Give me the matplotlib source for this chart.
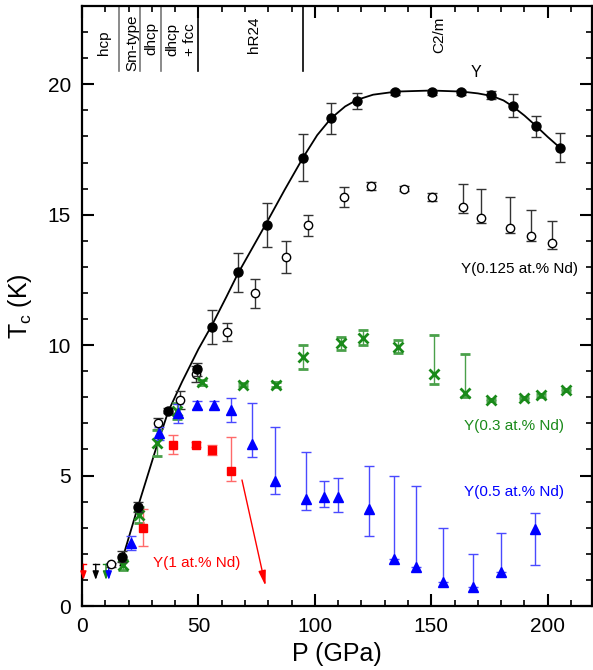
import matplotlib
matplotlib.use('Agg')
import matplotlib.pyplot as plt
from matplotlib.ticker import MultipleLocator

plt.rcParams['font.family'] = ['Liberation Sans', 'DejaVu Sans']
plt.rcParams['mathtext.fontset'] = 'custom'
plt.rcParams['mathtext.rm'] = 'Liberation Sans'
plt.rcParams['mathtext.it'] = 'Liberation Sans:italic'

# ---------------- data ----------------
# pure Y (filled black circles)
y_P = [17.3, 23.9, 37.1, 49.2, 55.9, 67.1, 79.3, 94.7, 107.0, 117.9, 134.3, 150.5, 162.7, 175.7, 185.0, 195.1, 205.2]
y_T = [1.89, 3.80, 7.48, 9.08, 10.68, 12.79, 14.60, 17.19, 18.69, 19.37, 19.69, 19.69, 19.69, 19.59, 19.18, 18.39, 17.57]
y_err = [0.2, 0.2, 0.1, 0.25, 0.65, 0.75, 0.85, 0.9, 0.6, 0.3, 0.1, 0.1, 0.1, 0.17, 0.45, 0.4, 0.55]

# guide line through pure Y
curve_P = [16.5, 20, 24, 28, 32, 37, 43, 50, 56, 62, 67, 73, 79, 87, 95, 101, 107, 113, 118, 125,
           135, 150, 163, 170, 176, 181, 185, 190, 195, 200, 205.2]
curve_T = [1.55, 2.6, 3.8, 4.95, 6.1, 7.45, 8.6, 9.85, 10.8, 11.85, 12.75, 13.7, 14.65, 15.95, 17.2, 18.05,
           18.7, 19.15, 19.4, 19.6, 19.72, 19.76, 19.72, 19.65, 19.55, 19.38, 19.15, 18.8, 18.4, 17.98, 17.57]

# Y(0.125 at.% Nd) open circles
a_P = [12.4, 32.5, 42.1, 48.9, 62.1, 74.4, 87.6, 97.1, 112.4, 124.0, 138.2, 150.5, 163.5, 171.5, 184.0, 192.7, 202.0]
a_T = [1.61, 7.0, 7.89, 8.89, 10.49, 11.98, 13.38, 14.59, 15.68, 16.09, 15.99, 15.68, 15.29, 14.88, 14.49, 14.2, 13.9]
a_lo = [0.1, 0.2, 0.35, 0.3, 0.35, 0.55, 0.6, 0.4, 0.4, 0.15, 0.1, 0.15, 0.22, 0.19, 0.21, 0.22, 0.22]
a_hi = [0.05, 0.2, 0.35, 0.3, 0.35, 0.55, 0.6, 0.4, 0.4, 0.15, 0.1, 0.15, 0.88, 1.1, 1.19, 0.97, 0.86]

# Y(0.3 at.% Nd) green crosses
b_P = [17.5, 24.3, 32.0, 40.6, 51.4, 69.2, 83.3, 95.0, 111.2, 120.7, 135.8, 151.1, 164.4, 175.7, 189.7, 196.9, 208.0]
b_T = [1.57, 3.5, 6.26, 7.48, 8.58, 8.49, 8.49, 9.54, 10.07, 10.29, 9.94, 8.89, 8.17, 7.89, 7.98, 8.08, 8.28]
b_lo = [0.2, 0.3, 0.5, 0.3, 0.1, 0.05, 0.1, 0.45, 0.25, 0.3, 0.25, 0.38, 0.17, 0.05, 0.05, 0.05, 0.05]
b_hi = [0.2, 0.3, 0.5, 0.3, 0.1, 0.05, 0.1, 0.45, 0.25, 0.3, 0.25, 1.5, 1.5, 0.05, 0.05, 0.05, 0.05]

# Y(0.5 at.% Nd) blue triangles
c_P = [20.9, 33.2, 41.1, 49.2, 56.7, 63.8, 72.8, 82.8, 96.4, 103.9, 109.9, 123.2, 133.9, 143.6, 155.1, 167.7, 180.1, 194.7]
c_T = [2.43, 6.62, 7.38, 7.7, 7.7, 7.51, 6.21, 4.8, 4.09, 4.19, 4.19, 3.7, 1.79, 1.51, 0.93, 0.74, 1.31, 2.94]
c_lo = [0.27, 0.25, 0.35, 0.15, 0.15, 0.45, 0.51, 0.51, 0.41, 0.39, 0.6, 1.02, 0, 0, 0, 0, 0, 1.37]
c_hi = [0.27, 0.25, 0.35, 0.15, 0.15, 0.45, 1.58, 2.07, 1.8, 0.61, 0.7, 1.68, 3.2, 3.1, 2.05, 1.24, 1.48, 0.63]

# Y(1 at.% Nd) red squares
d_P = [26.0, 39.2, 48.8, 55.9, 63.8]
d_T = [2.98, 6.19, 6.19, 5.98, 5.18]
d_lo = [0.68, 0.35, 0.08, 0.2, 0.39]
d_hi = [0.72, 0.35, 0.08, 0.2, 1.31]

# upper limits (no transition down to ~1 K)
lim_P = [0.6, 5.9, 10.3, 11.5]
lim_top = [1.6, 1.6, 1.6, 1.6]
lim_bot = [1.0, 1.0, 1.0, 1.0]
lim_col = ['#ff0000', '#000000', '#1a8a1a', '#0000ff']

# phase boundaries and labels
phase_bounds = [16, 25, 33.8, 50, 95]
phase_bound_col = ['#777777', '#777777', '#777777', '#000000', '#000000']
phase_names = ['hcp', 'Sm-type', 'dhcp', 'dhcp\n+ fcc', 'hR24', 'C2/m']
phase_x = [9.4, 21.7, 29.6, 42.5, 74.0, 153.6]
phase_y = [21.6, 21.6, 21.75, 21.7, 21.88, 21.88]

# series labels
lab_text = ['Y', 'Y(0.125 at.% Nd)', 'Y(0.3 at.% Nd)', 'Y(0.5 at.% Nd)', 'Y(1 at.% Nd)']
lab_x = [169, 188, 185.5, 185.5, 49.3]
lab_y = [20.46, 12.9, 6.9, 4.37, 1.65]
lab_col = ['#000000', '#000000', '#1a8a1a', '#0000ff', '#ff0000']

# red arrow (start -> end)
arrow_start = (68.7, 4.83)
arrow_end = (78.8, 0.77)

# ---------------- plot ----------------
fig = plt.figure(figsize=(5.93, 6.70), dpi=100)
ax = fig.add_axes([82 / 593, 64 / 670, 510 / 593, 600 / 670])

ax.plot(curve_P, curve_T, color='black', lw=1.3, zorder=3)

ekw = dict(capsize=3.5, elinewidth=1.0, capthick=1.0, linestyle='none')

ax.errorbar(y_P, y_T, yerr=y_err, fmt='o', color='black', ecolor='#333333', ms=6.5, zorder=5, **ekw)
ax.errorbar(a_P, a_T, yerr=[a_lo, a_hi], fmt='o', color='black', ecolor='#333333', mfc='white',
            mec='black', mew=1.0, ms=6, zorder=4, **ekw)
ax.errorbar(b_P, b_T, yerr=[b_lo, b_hi], fmt='x', color='#1a8a1a', ecolor='#4aa04a', ms=6.5, mew=2.0,
            zorder=4, **ekw)
ax.errorbar(c_P, c_T, yerr=[c_lo, c_hi], fmt='^', color='#0000ff', ecolor='#4a4aff', ms=7.5, zorder=4, **ekw)
ax.errorbar(d_P, d_T, yerr=[d_lo, d_hi], fmt='s', color='#ff0000', ecolor='#ff6a6a', ms=6, zorder=4, **ekw)

for p, t1, t0, c in zip(lim_P, lim_top, lim_bot, lim_col):
    ax.annotate('', xy=(p, t0), xytext=(p, t1),
                arrowprops=dict(arrowstyle='-|>,head_length=0.5,head_width=0.18', color=c, lw=1.0,
                                shrinkA=0, shrinkB=0))
    ax.plot([p - 1.2, p + 1.2], [t1, t1], color=c, lw=1.0)

ax.annotate('', xy=arrow_end, xytext=arrow_start,
            arrowprops=dict(arrowstyle='-|>,head_length=0.9,head_width=0.22', color='#ff0000', lw=1.0,
                            shrinkA=0, shrinkB=0))

for xb, cb in zip(phase_bounds, phase_bound_col):
    ax.plot([xb, xb], [20.5, 23], color=cb, lw=1.2, zorder=2)

for name, px, py in zip(phase_names, phase_x, phase_y):
    ax.text(px, py, name, rotation=90, ha='center', va='center', fontsize=11, linespacing=1.35,
            multialignment='center')

for t, lx, ly, c in zip(lab_text, lab_x, lab_y, lab_col):
    ax.text(lx, ly, t, ha='center', va='center', fontsize=11.5 if t == 'Y' else 11, color=c)

ax.set_xlim(0, 219)
ax.set_ylim(0, 23)
ax.xaxis.set_major_locator(MultipleLocator(50))
ax.xaxis.set_minor_locator(MultipleLocator(10))
ax.yaxis.set_major_locator(MultipleLocator(5))
ax.yaxis.set_minor_locator(MultipleLocator(1))
ax.tick_params(which='both', direction='in', top=True, right=True, labelsize=15, pad=8)
ax.tick_params(which='major', length=8.5, width=1.5)
ax.tick_params(which='minor', length=4.5, width=1.2)
for s in ax.spines.values():
    s.set_linewidth(1.6)

ax.set_xlabel('P (GPa)', fontsize=18, labelpad=4)
ax.set_ylabel('T$_\\mathregular{c}$ (K)', fontsize=18, labelpad=10)

fig.savefig('out.png', dpi=100)
